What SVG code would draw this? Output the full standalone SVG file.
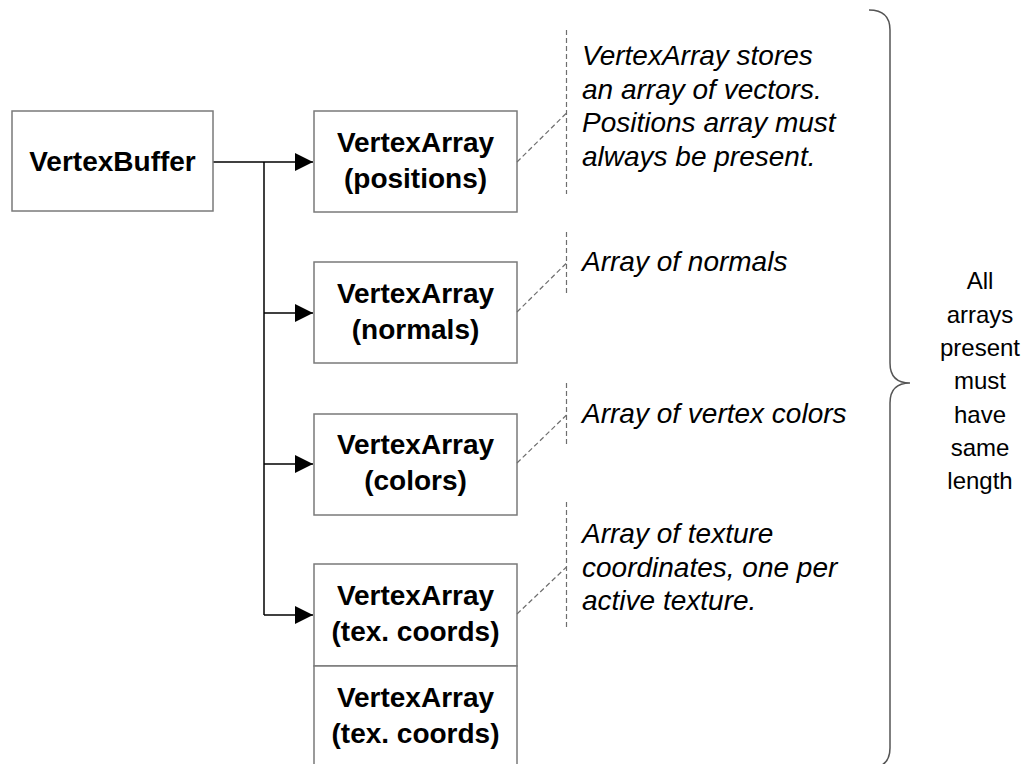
<svg xmlns="http://www.w3.org/2000/svg" width="1031" height="764" viewBox="0 0 1031 764">
  <style>
    .box { fill: #ffffff; stroke: #7a7a7a; stroke-width: 1.5; }
    .label { font-family: "Liberation Sans", Arial, sans-serif; font-size: 28px; font-weight: bold; fill: #000; text-anchor: middle; }
    .note { font-family: "Liberation Sans", Arial, sans-serif; font-size: 28px; font-style: italic; fill: #000; }
    .side { font-family: "Liberation Sans", Arial, sans-serif; font-size: 24px; fill: #000; text-anchor: middle; }
    .wire { fill: none; stroke: #000; stroke-width: 1.5; }
    .callout { fill: none; stroke: #6e6e6e; stroke-width: 1.2; stroke-dasharray: 5 3; }
    .brace { fill: none; stroke: #555; stroke-width: 1.5; }
  </style>
  <defs>
    <marker id="arrow" markerWidth="18" markerHeight="18" refX="18" refY="9" orient="auto" markerUnits="userSpaceOnUse">
      <path d="M0,0 L18,9 L0,18 Z" fill="#000"/>
    </marker>
  </defs>

  <rect width="1031" height="764" fill="#ffffff"/>

  <!-- connectors from the buffer to each array -->
  <g id="connectors">
    <path class="wire" d="M213,162 L313,162" marker-end="url(#arrow)"/>
    <path class="wire" d="M264,162 L264,615"/>
    <path class="wire" d="M264,313 L313,313" marker-end="url(#arrow)"/>
    <path class="wire" d="M264,464 L313,464" marker-end="url(#arrow)"/>
    <path class="wire" d="M264,615 L313,615" marker-end="url(#arrow)"/>
  </g>

  <g id="vertex-buffer">
    <rect class="box" x="12" y="111" width="201" height="100"/>
    <text class="label" x="112.5" y="171">VertexBuffer</text>
  </g>

  <g id="array-positions">
    <rect class="box" x="314" y="111" width="203" height="101"/>
    <text class="label" x="415.5" y="152">VertexArray</text>
    <text class="label" x="415.5" y="188">(positions)</text>
  </g>

  <g id="array-normals">
    <rect class="box" x="314" y="262" width="203" height="101"/>
    <text class="label" x="415.5" y="303">VertexArray</text>
    <text class="label" x="415.5" y="339">(normals)</text>
  </g>

  <g id="array-colors">
    <rect class="box" x="314" y="414" width="203" height="101"/>
    <text class="label" x="415.5" y="454">VertexArray</text>
    <text class="label" x="415.5" y="490">(colors)</text>
  </g>

  <g id="array-texcoords-1">
    <rect class="box" x="314" y="564" width="203" height="102"/>
    <text class="label" x="415.5" y="605">VertexArray</text>
    <text class="label" x="415.5" y="641">(tex. coords)</text>
  </g>

  <g id="array-texcoords-2">
    <rect class="box" x="314" y="666" width="203" height="102"/>
    <text class="label" x="415.5" y="707">VertexArray</text>
    <text class="label" x="415.5" y="743">(tex. coords)</text>
  </g>

  <!-- annotations with dashed leaders -->
  <g id="note-positions">
    <path class="callout" d="M517,162 L566.5,113"/>
    <path class="callout" d="M566.5,30 L566.5,194"/>
    <text class="note" x="582" y="65">VertexArray stores</text>
    <text class="note" x="582" y="98.5">an array of vectors.</text>
    <text class="note" x="582" y="132">Positions array must</text>
    <text class="note" x="582" y="165.5">always be present.</text>
  </g>

  <g id="note-normals">
    <path class="callout" d="M517,312 L566.5,263"/>
    <path class="callout" d="M566.5,232 L566.5,294"/>
    <text class="note" x="582" y="271">Array of normals</text>
  </g>

  <g id="note-colors">
    <path class="callout" d="M517,463 L566.5,415"/>
    <path class="callout" d="M566.5,383 L566.5,446"/>
    <text class="note" x="582" y="423">Array of vertex colors</text>
  </g>

  <g id="note-texcoords">
    <path class="callout" d="M517,614 L566.5,567"/>
    <path class="callout" d="M566.5,502 L566.5,630"/>
    <text class="note" x="582" y="543">Array of texture</text>
    <text class="note" x="582" y="576.5">coordinates, one per</text>
    <text class="note" x="582" y="610">active texture.</text>
  </g>

  <!-- brace spanning all arrays -->
  <g id="length-brace">
    <path class="brace" d="M869,10 Q890,10 890,30 L890,363 Q890,383 910,383 Q890,383 890,403 L890,748 Q890,768 869,768"/>
    <text class="side" x="980" y="289">All</text>
    <text class="side" x="980" y="322.5">arrays</text>
    <text class="side" x="980" y="356">present</text>
    <text class="side" x="980" y="389">must</text>
    <text class="side" x="980" y="422.5">have</text>
    <text class="side" x="980" y="456">same</text>
    <text class="side" x="980" y="489">length</text>
  </g>
</svg>
